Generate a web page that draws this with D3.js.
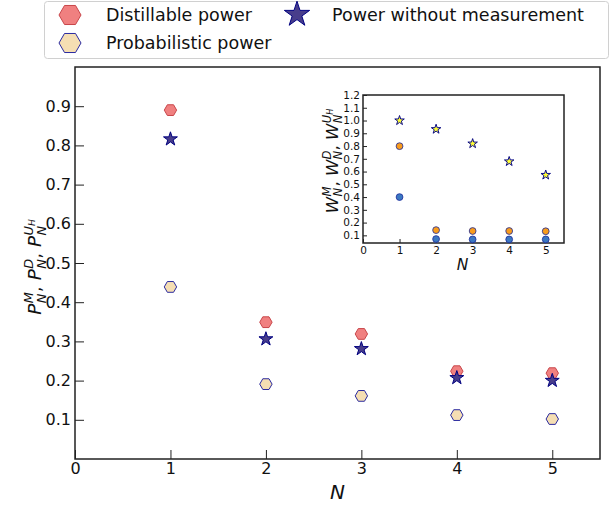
<!DOCTYPE html>
<html><head><meta charset="utf-8">
<script src="https://cdn.jsdelivr.net/npm/d3@7"></script>
<style>body{margin:0;background:#fff;} svg{display:block;font-family:"DejaVu Sans",sans-serif;}</style>
</head><body>
<svg id="c" width="616" height="506"></svg>
<script>
// ---- data ----
const N = [1, 2, 3, 4, 5];
const distillable = [0.89, 0.349, 0.319, 0.224, 0.219];
const withoutMeasurement = [0.816, 0.306, 0.281, 0.207, 0.200];
const probabilistic = [0.439, 0.191, 0.161, 0.112, 0.102];
const mainYTicks = [0.1, 0.2, 0.3, 0.4, 0.5, 0.6, 0.7, 0.8, 0.9];
const mainXTicks = [0, 1, 2, 3, 4, 5];
// inset
const insetStar = [1.0, 0.932, 0.819, 0.679, 0.573];
const insetOrange = [0.799, 0.141, 0.134, 0.134, 0.132];
const insetBlue = [0.40, 0.071, 0.068, 0.068, 0.068];
const insetYTicks = [0.1,0.2,0.3,0.4,0.5,0.6,0.7,0.8,0.9,1.0,1.1,1.2];
const insetXTicks = [0, 1, 2, 3, 4, 5];
const legendLabels = ["Distillable power", "Power without measurement", "Probabilistic power"];

const svg = d3.select("#c");
const hex = r => { const p = d3.path(); for (let i = 0; i < 6; i++) { const a = i * Math.PI / 3; const x = r * Math.cos(a), y = r * Math.sin(a); i ? p.lineTo(x, y) : p.moveTo(x, y); } p.closePath(); return p.toString(); };
function starPath(r) {
  const kr = Math.sin(Math.PI / 10) / Math.sin(7 * Math.PI / 10);
  const p = d3.path();
  for (let i = 0; i < 10; i++) {
    const rr = i % 2 ? r * kr : r; const a = -Math.PI / 2 + i * Math.PI / 5;
    const x = rr * Math.cos(a), y = rr * Math.sin(a);
    i ? p.lineTo(x, y) : p.moveTo(x, y);
  }
  p.closePath(); return p.toString();
}

const styles = {
  dist: {fill: "#f08080", stroke: "#c8464a"},
  prob: {fill: "#f5deb3", stroke: "#2a2aa0"},
  star: {fill: "#483d8b", stroke: "#000080"}
};

// ---- main plot ----
const M = {l: 75, r: 600, t: 67, b: 459};
const x = d3.scaleLinear().domain([0, 5.5]).range([M.l, M.r]);
const y = d3.scaleLinear().domain([0, 1]).range([M.b, M.t]);
const axisColor = "#222";

const gx = svg.append("g").attr("transform", `translate(0,${M.b})`)
  .call(d3.axisBottom(x).tickValues(mainXTicks).tickSize(-9).tickPadding(4).tickFormat(d3.format("d")));
const gy = svg.append("g").attr("transform", `translate(${M.l},0)`)
  .call(d3.axisLeft(y).tickValues(mainYTicks).tickSize(-9).tickPadding(4).tickFormat(d3.format(".1f")));
[gx, gy].forEach(g => { g.select(".domain").remove(); g.selectAll("line").attr("stroke", axisColor).attr("stroke-width", 1); g.selectAll("text").attr("font-size", 16).attr("fill", "#111").attr("font-family", "DejaVu Sans"); });
svg.append("rect").attr("x", M.l).attr("y", M.t).attr("width", M.r - M.l).attr("height", M.b - M.t)
  .attr("fill", "none").attr("stroke", axisColor).attr("stroke-width", 1.5);

function markers(g, xs, ys, vals, pathStr, st) {
  g.selectAll(null).data(vals).enter().append("path")
    .attr("d", pathStr).attr("transform", (d, i) => `translate(${xs(N[i])},${ys(d)})`)
    .attr("fill", st.fill).attr("stroke", st.stroke).attr("stroke-width", 1);
}
const gm = svg.append("g");
markers(gm, x, y, probabilistic, hex(6.2), styles.prob);
markers(gm, x, y, distillable, hex(6.2), styles.dist);
markers(gm, x, y, withoutMeasurement, starPath(7.3), styles.star);

// math label helper
function mathLabel(g, parts, fs) {
  let cx = 0;
  const add = (t, size, dy, italic, xx) => {
    const el = g.append("text").attr("x", xx === undefined ? cx : xx).attr("y", dy).attr("font-size", size)
      .attr("font-style", italic ? "italic" : "normal").attr("fill", "#111").text(t);
    return el.node().getComputedTextLength();
  };
  parts.forEach((p, k) => {
    cx += add(p.base, fs, 0, true) + fs * 0.02;
    const s = fs * 0.7;
    const w1 = add(p.sub, s, fs * 0.25, true);
    let w2;
    if (p.supSub) {
      const wa = add(p.sup, s, -fs * 0.42, true);
      const wb = add(p.supSub, s * 0.7, -fs * 0.3, true, cx + wa);
      w2 = wa + wb;
    } else w2 = add(p.sup, s, -fs * 0.42, true);
    cx += Math.max(w1, w2);
    if (k < parts.length - 1) { cx += add(",", fs, 0, false); cx += fs * 0.32; }
  });
  return cx;
}
function centeredMath(parent, parts, fs, cxp, cyp, rot) {
  const g = parent.append("g");
  const inner = g.append("g");
  const w = mathLabel(inner, parts, fs);
  inner.attr("transform", `translate(${-w / 2},0)`);
  g.attr("transform", `translate(${cxp},${cyp}) rotate(${rot})`);
}
centeredMath(svg, [{base: "P", sub: "N", sup: "M"}, {base: "P", sub: "N", sup: "D"}, {base: "P", sub: "N", sup: "U", supSub: "H"}], 18.5, 41, 267, -90);
svg.append("text").attr("x", (M.l + M.r) / 2).attr("y", 499).attr("text-anchor", "middle")
  .attr("font-size", 20).attr("font-style", "italic").attr("fill", "#111").text("N");

// ---- inset ----
const I = {l: 363, r: 564, t: 95, b: 243};
const xi = d3.scaleLinear().domain([0, 5.5]).range([I.l, I.r]);
const yi = d3.scaleLinear().domain([0.04, 1.2]).range([I.b, I.t]);
svg.append("rect").attr("x", I.l).attr("y", I.t).attr("width", I.r - I.l).attr("height", I.b - I.t)
  .attr("fill", "#fff").attr("stroke", "none");
const gxi = svg.append("g").attr("transform", `translate(0,${I.b})`)
  .call(d3.axisBottom(xi).tickValues(insetXTicks).tickSize(-4).tickPadding(4).tickFormat(d3.format("d")));
const gyi = svg.append("g").attr("transform", `translate(${I.l},0)`)
  .call(d3.axisLeft(yi).tickValues(insetYTicks).tickSize(-4).tickPadding(3).tickFormat(d3.format(".1f")));
[gxi, gyi].forEach(g => { g.select(".domain").remove(); g.selectAll("line").attr("stroke", axisColor); g.selectAll("text").attr("font-size", 10.5).attr("fill", "#111").attr("font-family", "DejaVu Sans"); });
svg.append("rect").attr("x", I.l).attr("y", I.t).attr("width", I.r - I.l).attr("height", I.b - I.t)
  .attr("fill", "none").attr("stroke", axisColor).attr("stroke-width", 1.5);
const gi = svg.append("g");
gi.selectAll(null).data(insetBlue).enter().append("circle").attr("cx", (d, i) => xi(N[i])).attr("cy", d => yi(d))
  .attr("r", 3.4).attr("fill", "#3b78c2").attr("stroke", "#1a2a9a").attr("stroke-width", 0.8);
gi.selectAll(null).data(insetOrange).enter().append("circle").attr("cx", (d, i) => xi(N[i])).attr("cy", d => yi(d))
  .attr("r", 3.4).attr("fill", "#f99c1c").attr("stroke", "#1a2a9a").attr("stroke-width", 0.8);
markers(gi, xi, yi, insetStar, starPath(5), {fill: "#ffff33", stroke: "#0a0a8a"});
centeredMath(svg, [{base: "W", sub: "N", sup: "M"}, {base: "W", sub: "N", sup: "D"}, {base: "W", sub: "N", sup: "U", supSub: "H"}], 16.5, 338, 161, -90);
svg.append("text").attr("x", (I.l + I.r) / 2 - 1).attr("y", 270).attr("text-anchor", "middle")
  .attr("font-size", 15.5).attr("font-style", "italic").attr("fill", "#111").text("N");

// ---- legend ----
const lg = svg.append("g");
lg.append("rect").attr("x", 44.5).attr("y", 1.5).attr("width", 564).attr("height", 57).attr("rx", 3)
  .attr("fill", "#fff").attr("stroke", "#d0d0d0").attr("stroke-width", 1);
const legendItems = [
  {label: legendLabels[0], x: 70, y: 15, path: hex(11), st: styles.dist, tx: 106},
  {label: legendLabels[1], x: 297, y: 14.5, path: starPath(13.3), st: styles.star, tx: 332},
  {label: legendLabels[2], x: 70, y: 43, path: hex(11), st: styles.prob, tx: 106}
];
legendItems.forEach(it => {
  lg.append("path").attr("d", it.path).attr("transform", `translate(${it.x},${it.y})`)
    .attr("fill", it.st.fill).attr("stroke", it.st.stroke).attr("stroke-width", 1);
  lg.append("text").attr("x", it.tx).attr("y", it.y + 6).attr("font-size", 17.5).attr("fill", "#111").text(it.label);
});
</script>
</body></html>
